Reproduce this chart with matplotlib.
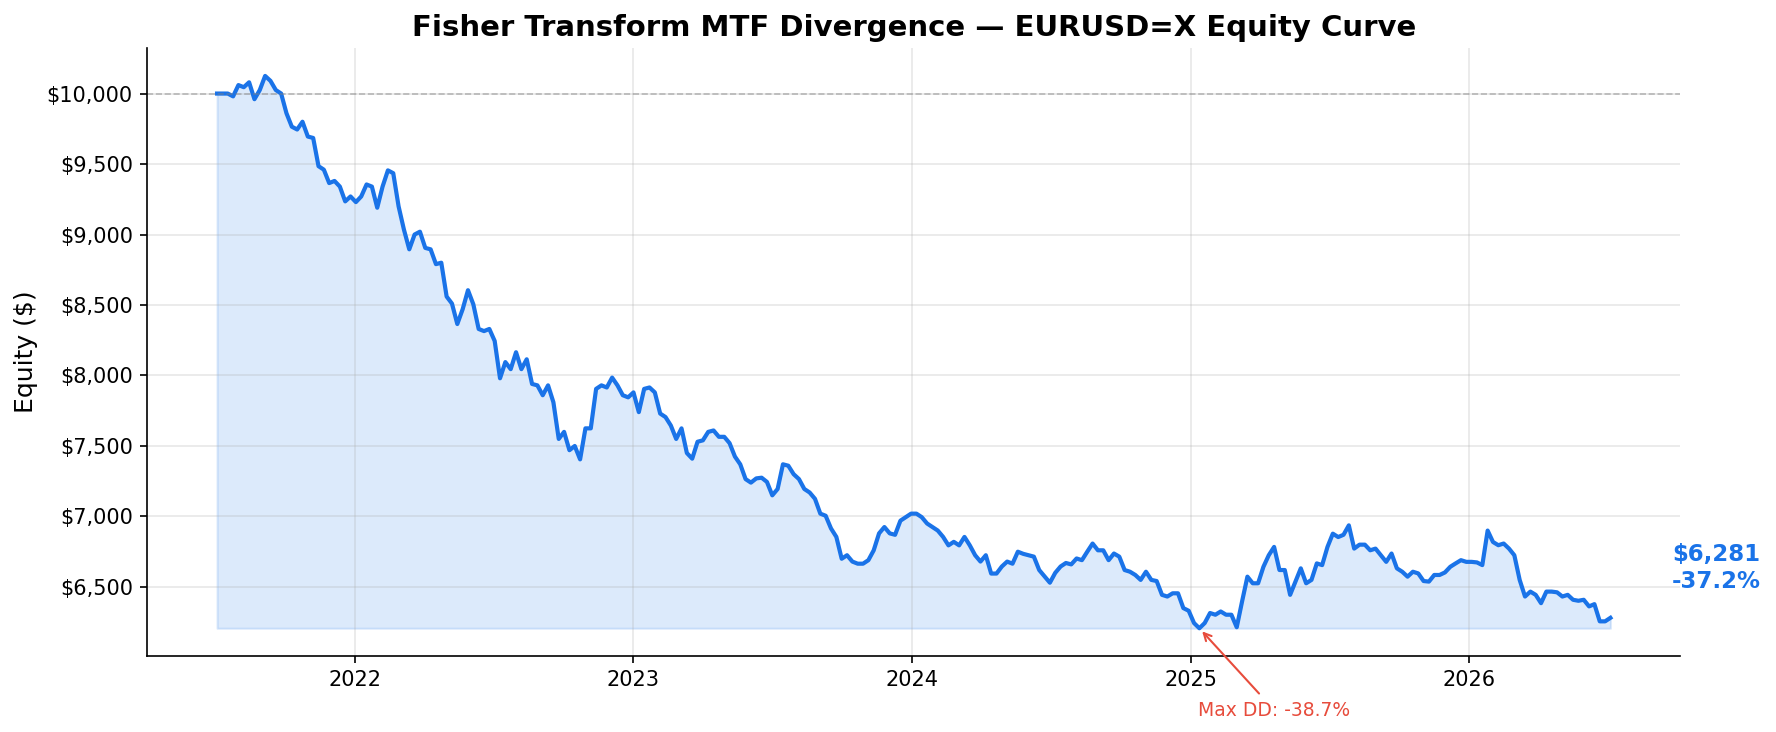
import matplotlib
matplotlib.use("Agg")
import matplotlib.pyplot as plt
import matplotlib.ticker as mticker
import numpy as np
import pandas as pd

# weekly equity readings, starting early July 2021
start_date = "2021-07-04"
initial_capital = 10000
equity_values = [
    10000, 10000, 10000, 9980, 10060, 10045, 10080, 9960, 10025, 10125,
    10090, 10025, 10000, 9860, 9765, 9745, 9800, 9695, 9685, 9485,
    9460, 9365, 9380, 9340, 9235, 9270, 9230, 9270, 9355, 9340,
    9190, 9340, 9455, 9435, 9200, 9035, 8895, 9000, 9020, 8905,
    8895, 8790, 8800, 8560, 8510, 8365, 8470, 8605, 8505, 8330,
    8315, 8330, 8245, 7980, 8095, 8045, 8165, 8045, 8115, 7940,
    7930, 7860, 7930, 7810, 7550, 7600, 7470, 7500, 7405, 7625,
    7625, 7905, 7930, 7915, 7985, 7930, 7860, 7845, 7880, 7740,
    7905, 7915, 7880, 7730, 7705, 7645, 7550, 7625, 7450, 7410,
    7530, 7540, 7600, 7610, 7565, 7565, 7520, 7425, 7370, 7265,
    7240, 7270, 7275, 7245, 7150, 7195, 7370, 7360, 7300, 7265,
    7195, 7170, 7125, 7020, 7005, 6915, 6855, 6700, 6725, 6680,
    6665, 6665, 6690, 6760, 6880, 6925, 6880, 6870, 6970, 6995,
    7020, 7020, 6995, 6950, 6925, 6900, 6855, 6795, 6820, 6795,
    6855, 6795, 6725, 6680, 6725, 6595, 6595, 6645, 6680, 6665,
    6750, 6735, 6725, 6715, 6620, 6575, 6530, 6600, 6645, 6670,
    6660, 6702, 6690, 6750, 6808, 6760, 6760, 6690, 6737, 6715,
    6620, 6608, 6585, 6550, 6608, 6550, 6542, 6444, 6432, 6455,
    6455, 6350, 6331, 6244, 6207, 6244, 6315, 6303, 6326, 6303,
    6303, 6214, 6397, 6573, 6526, 6526, 6643, 6725, 6784, 6620,
    6620, 6444, 6538, 6632, 6526, 6550, 6667, 6655, 6784, 6878,
    6854, 6870, 6937, 6772, 6800, 6800, 6760, 6772, 6725, 6678,
    6737, 6632, 6608, 6573, 6608, 6596, 6542, 6538, 6585, 6585,
    6603, 6643, 6667, 6690, 6678, 6678, 6674, 6655, 6900, 6819,
    6796, 6808, 6772, 6725, 6550, 6432, 6467, 6444, 6385, 6467,
    6467, 6462, 6432, 6444, 6409, 6402, 6409, 6362, 6378, 6256,
    6256, 6281,
]

dates = pd.date_range(start_date, periods=len(equity_values), freq="7D")
equity = pd.Series(equity_values, index=dates, dtype=float)

color = "#1a73e8"
fig, ax = plt.subplots(figsize=(11.84, 4.88), dpi=150)
fig.subplots_adjust(left=0.083, right=0.946, top=0.934, bottom=0.104)

ax.plot(equity.index, equity.values, color=color, linewidth=2)
ax.fill_between(equity.index, equity.values, equity.min(), color=color, alpha=0.15)
ax.axhline(initial_capital, color="gray", linestyle="--", linewidth=0.8, alpha=0.5)

# max drawdown
drawdown = equity / equity.cummax() - 1
dd_date = drawdown.idxmin()
ax.annotate(
    f"Max DD: {drawdown.min() * 100:.1f}%",
    xy=(dd_date, equity[dd_date]),
    xytext=(36, -42),
    textcoords="offset points",
    ha="center",
    fontsize=9,
    color="#e74c3c",
    arrowprops=dict(arrowstyle="->", color="#e74c3c", lw=1),
)

# final value label
final = equity.iloc[-1]
ret = (final / initial_capital - 1) * 100
ax.annotate(
    f"${final:,.0f}\n{ret:.1f}%",
    xy=(equity.index[-1], final),
    xytext=(29.5, 24),
    textcoords="offset points",
    ha="left",
    va="center",
    fontsize=11,
    fontweight="bold",
    color=color,
    annotation_clip=False,
)

ax.set_title("Fisher Transform MTF Divergence — EURUSD=X Equity Curve",
             fontsize=14, fontweight="bold")
ax.set_ylabel("Equity ($)", fontsize=12)
ax.yaxis.set_major_formatter(mticker.FuncFormatter(lambda v, _: f"${v:,.0f}"))
ax.grid(True, alpha=0.3)
ax.spines["top"].set_visible(False)
ax.spines["right"].set_visible(False)

plt.savefig("out.png", dpi=150)
plt.close(fig)
